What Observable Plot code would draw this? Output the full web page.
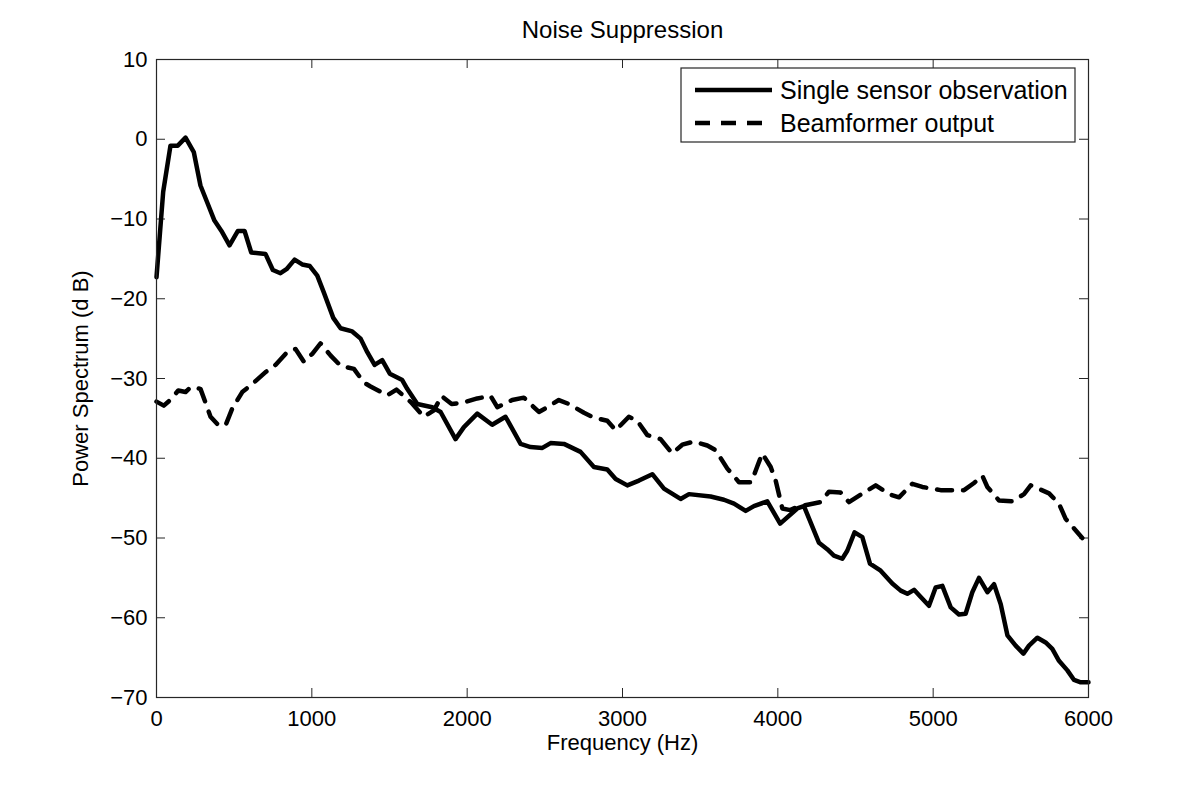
<!DOCTYPE html>
<html>
<head>
<meta charset="utf-8">
<script src="https://cdn.jsdelivr.net/npm/d3@7"></script>
<script src="https://cdn.jsdelivr.net/npm/@observablehq/plot@0.6"></script>
<style>
  html, body { margin: 0; padding: 0; background: #fff; }
  #chart { width: 1200px; height: 787px; }
  svg { font-family: "Liberation Sans", Arial, Helvetica, sans-serif; }
</style>
</head>
<body>
<div id="chart"></div>
<script>
// ---- Data ----
const titleText = "Noise Suppression";
const xLabel = "Frequency (Hz)";
const yLabel = "Power Spectrum (d B)";
const seriesNames = ["Single sensor observation", "Beamformer output"];

const xTicks = [0, 1000, 2000, 3000, 4000, 5000, 6000];
const yTicks = [10, 0, -10, -20, -30, -40, -50, -60, -70];

// Single sensor observation (solid)
const singleFreq = [0, 43, 90, 137, 187, 240, 283, 326, 373, 418, 470, 524, 567, 610, 702, 749, 798, 837, 889, 938, 987, 1035, 1077, 1138, 1185, 1260, 1314, 1357, 1404, 1453, 1502, 1582, 1614, 1679, 1775, 1829, 1925, 1979, 2065, 2161, 2247, 2344, 2408, 2484, 2537, 2623, 2730, 2816, 2902, 2956, 3031, 3106, 3192, 3267, 3374, 3428, 3567, 3653, 3718, 3793, 3846, 3932, 4015, 4125, 4168, 4265, 4318, 4361, 4415, 4447, 4494, 4544, 4593, 4662, 4737, 4791, 4834, 4877, 4920, 4973, 5016, 5059, 5113, 5166, 5209, 5252, 5295, 5349, 5392, 5435, 5478, 5531, 5581, 5617, 5671, 5724, 5767, 5810, 5864, 5907, 5950, 6000];
const singleDb = [-17.3, -6.6, -0.8, -0.8, 0.2, -1.6, -5.8, -7.9, -10.2, -11.5, -13.3, -11.5, -11.5, -14.2, -14.4, -16.4, -16.8, -16.3, -15.1, -15.7, -15.9, -17.1, -19.2, -22.4, -23.7, -24.1, -25.0, -26.7, -28.3, -27.7, -29.4, -30.2, -31.3, -33.2, -33.6, -34.2, -37.6, -36.1, -34.4, -35.8, -34.8, -38.2, -38.6, -38.7, -38.1, -38.2, -39.2, -41.1, -41.4, -42.6, -43.4, -42.8, -42.0, -43.8, -45.1, -44.5, -44.8, -45.2, -45.7, -46.6, -46.0, -45.4, -48.2, -46.3, -46.0, -50.6, -51.4, -52.2, -52.6, -51.6, -49.3, -49.9, -53.2, -54.1, -55.7, -56.6, -57.0, -56.5, -57.4, -58.5, -56.2, -56.0, -58.7, -59.6, -59.5, -56.8, -55.0, -56.8, -55.8, -58.3, -62.2, -63.5, -64.5, -63.5, -62.5, -63.1, -63.9, -65.4, -66.6, -67.8, -68.1, -68.1];

// Beamformer output (dashed)
const beamFreq = [0, 47, 94, 140, 187, 219, 283, 315, 348, 391, 444, 487, 552, 616, 702, 766, 841, 895, 949, 1003, 1056, 1120, 1185, 1271, 1335, 1378, 1486, 1545, 1640, 1721, 1786, 1835, 1900, 1979, 2065, 2151, 2194, 2290, 2365, 2462, 2516, 2590, 2655, 2752, 2816, 2902, 2956, 3041, 3095, 3160, 3245, 3320, 3385, 3460, 3546, 3600, 3675, 3750, 3830, 3868, 3900, 3954, 3986, 4029, 4080, 4125, 4200, 4276, 4329, 4404, 4458, 4555, 4630, 4716, 4780, 4866, 4930, 5048, 5124, 5199, 5263, 5317, 5349, 5424, 5510, 5585, 5628, 5746, 5810, 5853, 5907, 5960];
const beamDb = [-32.9, -33.4, -32.6, -31.5, -31.7, -31.1, -31.3, -33.0, -34.8, -35.7, -35.9, -33.8, -31.7, -30.7, -29.2, -28.3, -26.7, -26.3, -27.9, -26.9, -25.6, -27.1, -28.4, -28.8, -30.5, -31.0, -32.1, -31.4, -33.0, -34.8, -34.0, -32.2, -33.2, -33.0, -32.5, -32.2, -33.6, -32.7, -32.4, -34.2, -33.6, -32.7, -33.2, -34.3, -34.9, -35.3, -36.5, -34.8, -35.3, -37.1, -37.6, -39.4, -38.3, -37.9, -38.4, -39.0, -41.3, -43.0, -43.0, -41.0, -39.4, -41.1, -42.8, -46.3, -46.5, -46.1, -45.8, -45.5, -44.2, -44.3, -45.5, -44.3, -43.4, -44.5, -44.9, -43.2, -43.6, -44.0, -44.0, -44.0, -43.1, -42.2, -43.6, -45.3, -45.4, -44.5, -43.4, -44.4, -45.7, -47.6, -48.8, -50.0];

// ---- Build tables ----
const single = singleFreq.map((f, i) => ({f, db: singleDb[i]}));
const beam = beamFreq.map((f, i) => ({f, db: beamDb[i]}));

const W = 1200, H = 787;
const mL = 156, mR = 112, mT = 59, mB = 90;
const frameW = W - mL - mR, frameH = H - mT - mB;
const tickLen = 9;
const axisColor = "#262626";
const dash = "15,11";
const fontStack = '"Liberation Sans", Arial, Helvetica, sans-serif';
const fmt = d3.format("d");

const plot = Plot.plot({
  width: W,
  height: H,
  marginLeft: mL,
  marginRight: mR,
  marginTop: mT,
  marginBottom: mB,
  style: {fontFamily: fontStack, fontSize: "22px", color: "#000", background: "#fff"},
  x: {domain: [0, 6000]},
  y: {domain: [-70, 10]},
  marks: [
    Plot.axisX(xTicks, {anchor: "bottom", tickSize: 0, tickPadding: 13, label: null, fontSize: 22, tickFormat: fmt}),
    Plot.axisY(yTicks, {anchor: "left", tickSize: 0, tickPadding: 9, label: null, fontSize: 22, tickFormat: fmt}),
    // inward ticks on all four sides
    Plot.ruleX(xTicks, {x: d => d, insetTop: frameH - tickLen, stroke: axisColor}),
    Plot.ruleX(xTicks, {x: d => d, insetBottom: frameH - tickLen, stroke: axisColor}),
    Plot.ruleY(yTicks, {y: d => d, insetRight: frameW - tickLen, stroke: axisColor}),
    Plot.ruleY(yTicks, {y: d => d, insetLeft: frameW - tickLen, stroke: axisColor}),
    Plot.line(beam, {x: "f", y: "db", stroke: "#000", strokeWidth: 4.5, strokeDasharray: dash, strokeLinejoin: "round"}),
    Plot.line(single, {x: "f", y: "db", stroke: "#000", strokeWidth: 4.5, strokeLinejoin: "round"}),
    Plot.frame({stroke: axisColor, strokeWidth: 1.2}),
    Plot.text([titleText], {text: d => d, frameAnchor: "top", dy: -29, fontSize: 24, textAnchor: "middle", lineAnchor: "middle", fill: "#000"}),
    Plot.text([xLabel], {text: d => d, frameAnchor: "bottom", dy: 45, fontSize: 22, textAnchor: "middle", lineAnchor: "middle", fill: "#000"}),
    Plot.text([yLabel], {text: d => d, frameAnchor: "left", dx: -76, rotate: -90, fontSize: 22, textAnchor: "middle", lineAnchor: "middle", fill: "#000"})
  ]
});

document.getElementById("chart").appendChild(plot);

// ---- Legend (drawn inside the plot box, top right) ----
const svg = d3.select(plot);
const lg = svg.append("g").attr("font-family", fontStack).attr("text-anchor", "start");
lg.append("rect").attr("x", 681).attr("y", 68).attr("width", 394).attr("height", 74)
  .attr("fill", "#fff").attr("stroke", axisColor).attr("stroke-width", 1.2);
const rows = [
  {name: seriesNames[0], dashed: false, y: 90},
  {name: seriesNames[1], dashed: true, y: 123}
];
rows.forEach(r => {
  lg.append("line").attr("x1", 695).attr("x2", 772).attr("y1", r.y).attr("y2", r.y)
    .attr("stroke", "#000").attr("stroke-width", 4.5)
    .attr("stroke-dasharray", r.dashed ? dash : null);
  lg.append("text").attr("x", 780).attr("y", r.y).attr("dy", "0.35em")
    .attr("text-anchor", "start")
    .attr("font-size", 25).attr("fill", "#000").text(r.name);
});
</script>
</body>
</html>
